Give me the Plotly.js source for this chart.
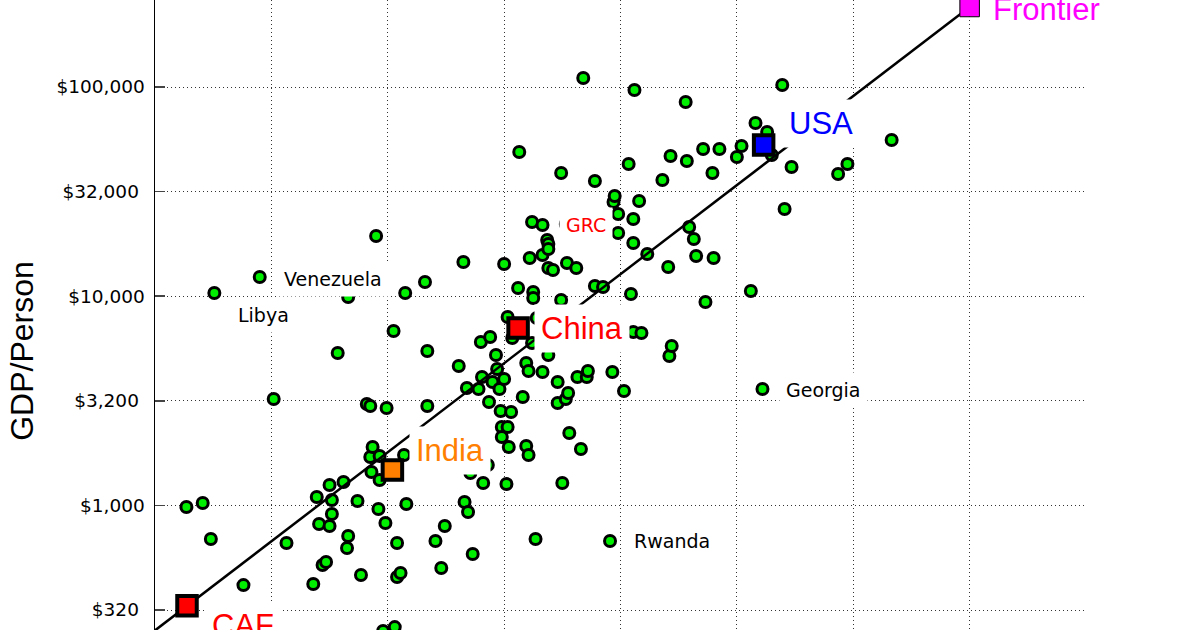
<!DOCTYPE html>
<html>
<head>
<meta charset="utf-8">
<script src="https://cdn.plot.ly/plotly-3.0.1.min.js"></script>
<style>
html,body{margin:0;padding:0;overflow:hidden;background:#fff;}
#chart{width:1200px;height:702px;}
</style>
</head>
<body>
<div id="chart"></div>
<script>
// ---- data ----
const countryX = [0.27,0.41,0.48,0.76,1.02,1.13,1.36,1.39,1.41,1.44,1.47,1.50,1.50,1.52,1.52,1.57,1.62,1.65,1.66,1.66,
  1.74,1.77,1.82,1.85,1.85,1.87,1.86,1.90,1.92,1.93,1.93,1.98,1.99,2.05,2.06,2.08,2.08,2.11,1.96,2.15,
  2.14,2.16,2.32,2.34,2.34,2.41,2.46,2.49,2.61,2.65,2.66,2.69,2.73,2.68,2.71,2.78,2.80,2.81,2.82,2.86,
  2.87,2.88,2.90,2.93,2.94,2.96,2.97,2.98,2.98,3.00,3.00,3.02,3.03,3.04,3.03,3.06,3.07,3.12,3.13,3.16,
  3.19,3.21,3.19,3.21,3.24,3.24,3.22,3.25,3.25,3.27,3.28,3.33,3.33,3.33,3.37,3.38,3.38,3.38,3.42,3.38,
  3.46,3.46,3.49,3.49,3.50,3.53,3.54,3.55,3.56,3.62,3.63,3.66,3.68,3.71,3.72,3.78,3.78,3.85,3.93,3.94,
  3.95,3.98,3.98,4.03,4.07,4.09,4.11,4.11,4.11,4.12,4.16,4.18,4.23,4.36,4.41,4.43,4.42,4.44,4.56,4.57,
  4.59,4.63,4.65,4.71,4.73,4.79,4.80,4.85,5.00,5.04,5.12,5.16,5.26,5.30,5.39,5.41,5.47,5.87,5.95,6.33];
const countryGDP = [983,1027,691,416,3225,661,421,1097,815,519,536,797,1252,1061,910,5352,1294,626,714,9913,
  1050,465,3052,2986,1703,1902,1444,19404,961,1722,1323,824,2921,6818,262,661,455,475,251,10360,
  1742,1016,11694,5472,2986,676,502,797,4638,14571,1038,930,586,3640,1428,3600,6041,4110,1280,1561,
  3120,6383,3889,5236,4487,3600,2827,2370,2123,14256,4020,1266,2370,1902,7956,2796,6313,10944,48906,3297,
  4793,4390,1923,1742,22630,5975,15224,10474,9804,691,7868,21895,15740,4342,18568,17770,16815,13640,13345,5236,
  3889,3086,38808,9592,1280,3225,14411,3446,2219,13640,4110,1860,110430,4110,4390,35540,11189,11066,4342,28200,
  30130,24717,20054,3523,42855,10247,23392,17963,6743,96763,28514,6669,15916,35934,13791,46800,5178,5781,84781,44290,
  21416,18774,15567,50534,9382,38808,15224,50534,46285,52240,10590,67300,60950,47315,102230,26120,41460,38390,42855,55810];

const namedCountries = ['Libya','Venezuela','GRC','Rwanda','Georgia'];
const namedX = [0.51,0.90,3.53,3.91,5.22];
const namedGDP = [10360,12350,22140,676,3600];

const highlightNames = ['CAF','India','China','USA','Frontier'];
const highlightX = [0.275,2.04,3.12,5.23,7.00];
const highlightGDP = [331,1477,7047,52820,241210];

const frontierLineX = [-0.2,7.00];
const frontierLineGDP = [207.8,241210];

const yTickValues = [316.23,1000,3162.3,10000,31623,100000];
const yTickLabels = ['$320\u00a0','$1,000','$3,200\u00a0','$10,000','$32,000\u00a0','$100,000'];
const yAxisTitle = 'GDP/Person';

// ---- styles ----
const highlightColors = ['#ff0000','#ff8000','#ff0000','#0000ff','#ff00ff'];
const highlightBorder = [4,4,4,4,1];
const highlightShift = {CAF:[18,-20],India:[17,19],China:[16,0],USA:[18,22],Frontier:[16,-2]};
const namedShift = {Libya:[17,-22],Venezuela:[17,-2],GRC:[-7,-1],Rwanda:[17,0],Georgia:[17,-1]};
const namedColor = {Libya:'#000',Venezuela:'#000',GRC:'#ff0000',Rwanda:'#000',Georgia:'#000'};

const dotStyle = {size:11,color:'#00ee00',line:{color:'#000',width:3}};

const traces = [
  {x:countryX,y:countryGDP,type:'scatter',mode:'markers',marker:dotStyle,hoverinfo:'skip'},
  {x:namedX,y:namedGDP,type:'scatter',mode:'markers',marker:dotStyle,hoverinfo:'skip'},
  {x:frontierLineX,y:frontierLineGDP,type:'scatter',mode:'lines',line:{color:'#000',width:2.5},hoverinfo:'skip'},
  {x:highlightX,y:highlightGDP,type:'scatter',mode:'markers',
   marker:{symbol:'square',size:19.5,color:highlightColors,line:{color:'#000',width:highlightBorder}},hoverinfo:'skip'}
];

const annotations = [];
highlightNames.forEach((n,i)=>{
  annotations.push({x:highlightX[i],y:Math.log10(highlightGDP[i]),xref:'x',yref:'y',text:n,showarrow:false,
    xanchor:'left',yanchor:'middle',xshift:highlightShift[n][0],yshift:highlightShift[n][1],
    bgcolor:'#ffffff',borderpad:6,
    font:{family:'Liberation Sans, Arial, sans-serif',size:31,color:highlightColors[i]}});
});
namedCountries.forEach((n,i)=>{
  annotations.push({x:namedX[i],y:Math.log10(namedGDP[i]),xref:'x',yref:'y',text:n,showarrow:false,
    xanchor:'left',yanchor:'middle',xshift:namedShift[n][0],yshift:namedShift[n][1],
    bgcolor:'#ffffff',borderpad:6,
    font:{family:'DejaVu Sans, sans-serif',size:19,color:namedColor[n]}});
});

const layout = {
  width:1200,height:702,
  margin:{l:155,r:114,t:0,b:0},
  paper_bgcolor:'#fff',plot_bgcolor:'#fff',
  showlegend:false,
  font:{family:'DejaVu Sans, sans-serif',color:'#000'},
  xaxis:{range:[0,8],dtick:1,tick0:0,showticklabels:false,ticks:'',showline:false,zeroline:false,
    showgrid:true,gridcolor:'#333',gridwidth:1,griddash:'1px,3px'},
  yaxis:{type:'log',range:[2.0603,5.4159],tickvals:yTickValues,ticktext:yTickLabels,
    tickfont:{family:'DejaVu Sans, sans-serif',size:18.5,color:'#000'},
    ticks:'inside',ticklen:10,tickwidth:1.5,tickcolor:'#444',ticklabelstandoff:5,
    showline:true,linecolor:'#000',linewidth:1.5,zeroline:false,
    showgrid:true,gridcolor:'#333',gridwidth:1,griddash:'1px,3px',
    title:{text:yAxisTitle,font:{family:'Liberation Sans, Arial, sans-serif',size:32,color:'#000'},standoff:13}},
  annotations:annotations
};

Plotly.newPlot('chart',traces,layout,{staticPlot:true,displayModeBar:false});
</script>
</body>
</html>
